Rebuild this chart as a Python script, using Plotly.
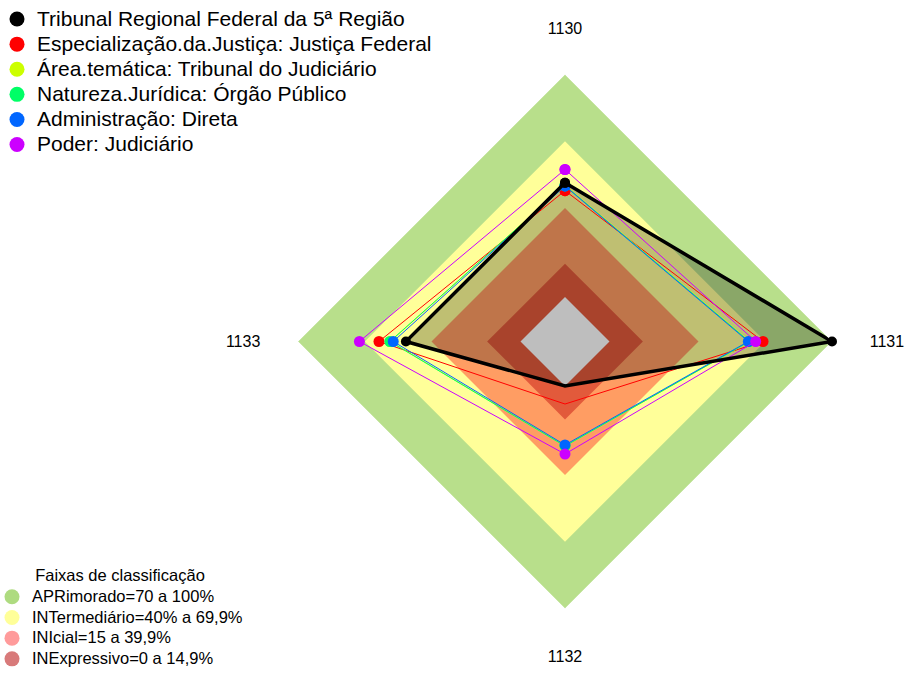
import plotly.graph_objects as go

# ---------------- data ----------------
categories = ["1130", "1131", "1132", "1133"]

series_names = [
    "Tribunal Regional Federal da 5ª Região",
    "Especialização.da.Justiça: Justiça Federal",
    "Área.temática: Tribunal do Judiciário",
    "Natureza.Jurídica: Órgão Público",
    "Administração: Direta",
    "Poder: Judiciário",
]
series_colors = ["#000000", "#FF0000", "#CCFF00", "#00FF66", "#0066FF", "#CC00FF"]

v_tribunal = [51.3, 100.0, 0.0, 51.5]
v_especializacao = [47.8, 69.0, 8.1, 63.6]
v_area = [50.2, 63.0, 27.0, 58.5]
v_natureza = [50.0, 62.8, 27.0, 58.7]
v_administracao = [49.9, 62.4, 26.5, 57.2]
v_poder = [57.3, 65.7, 30.6, 72.4]
series_values = [v_tribunal, v_especializacao, v_area, v_natureza, v_administracao, v_poder]

band_title = "Faixas de classificação"
band_names = [
    "APRimorado=70 a 100%",
    "INTermediário=40% a 69,9%",
    "INIcial=15 a 39,9%",
    "INExpressivo=0 a 14,9%",
]
band_limits = [100, 70, 40, 15]
band_fill = ["#b8df8b", "#ffff99", "#ff9d63", "#e25a3b"]
band_legend_colors = ["#aedb80", "#ffff99", "#ff9b9b", "#d87a7a"]
center_limit = 0
center_color = "#bebebe"
radial_range = [-20, 100]

FONT = "Liberation Sans, Arial, sans-serif"


def closed(vals):
    return list(vals) + [vals[0]]


def big(text, px):
    return f'<span style="font-size:{px}px">{text}</span>'


theta_c = closed(categories)

fig = go.Figure()

# classification bands
for lim, col in zip(band_limits, band_fill):
    fig.add_trace(go.Scatterpolar(
        r=closed([lim] * len(categories)), theta=theta_c,
        mode="lines", fill="toself", fillcolor=col,
        line=dict(width=0, color=col), showlegend=False, hoverinfo="skip"))

# translucent fill of the main series
fig.add_trace(go.Scatterpolar(
    r=closed(v_tribunal), theta=theta_c, mode="lines", fill="toself",
    fillcolor="rgba(0,0,0,0.25)", line=dict(width=0, color="rgba(0,0,0,0)"),
    showlegend=False, hoverinfo="skip"))

# grey centre
fig.add_trace(go.Scatterpolar(
    r=closed([center_limit] * len(categories)), theta=theta_c,
    mode="lines", fill="toself", fillcolor=center_color,
    line=dict(width=0, color=center_color), showlegend=False, hoverinfo="skip"))

# series lines
order = [1, 2, 3, 4, 5, 0]
for i in order:
    is_main = i == 0
    fig.add_trace(go.Scatterpolar(
        r=closed(series_values[i]), theta=theta_c,
        mode="lines+markers",
        line=dict(color=series_colors[i], width=3.5 if is_main else 1),
        marker=dict(color=series_colors[i], size=10 if is_main else 11),
        name=series_names[i], legendgroup=series_names[i],
        showlegend=False))

# legend entries for series
for name, col in zip(series_names, series_colors):
    fig.add_trace(go.Scatterpolar(
        r=[None], theta=[categories[0]], mode="markers",
        marker=dict(color=col, size=15), name=big(name, 21), legendgroup=name,
        legend="legend", showlegend=True))

# legend entries for bands
for name, col in zip(band_names, band_legend_colors):
    fig.add_trace(go.Scatterpolar(
        r=[None], theta=[categories[0]], mode="markers",
        marker=dict(color=col, size=15), name=big(name, 16.5),
        legend="legend2", showlegend=True))

W, H = 905, 675
cx, cy, R = 565, 341.5, 267
fig.update_layout(
    width=W, height=H,
    margin=dict(l=0, r=0, t=0, b=0, pad=0, autoexpand=False),
    paper_bgcolor="white",
    font=dict(family=FONT, color="#000000"),
    polar=dict(
        domain=dict(x=[(cx - R) / W, (cx + R) / W],
                    y=[(H - cy - R) / H, (H - cy + R) / H]),
        gridshape="linear",
        bgcolor="white",
        radialaxis=dict(range=radial_range, visible=False, showgrid=False),
        angularaxis=dict(
            categoryorder="array", categoryarray=categories,
            rotation=90, direction="clockwise",
            showticklabels=True, ticks="outside", ticklen=34,
            tickcolor="rgba(0,0,0,0)",
            tickfont=dict(size=16, family=FONT, color="#000000"),
            showline=False,
            showgrid=True, gridcolor="rgba(235,235,235,0.75)", gridwidth=1,
            layer="above traces"),
    ),
    legend=dict(
        x=-3 / W, y=1 - 1.5 / H, xanchor="left", yanchor="top",
        font=dict(size=17, family=FONT, color="#000000"),
        bgcolor="rgba(0,0,0,0)", tracegroupgap=0,
    ),
    legend2=dict(
        x=-8 / W, y=0.0, xanchor="left", yanchor="bottom",
        title=dict(text=band_title, side="top center",
                   font=dict(size=16.5, family=FONT, color="#000000")),
        font=dict(size=13.6, family=FONT, color="#000000"),
        bgcolor="rgba(0,0,0,0)",
    ),
    showlegend=True,
)

fig.write_html(
    "out.html",
    config={"displayModeBar": False},
    post_script="document.body.style.margin='0px';document.body.style.overflow='hidden';",
)
